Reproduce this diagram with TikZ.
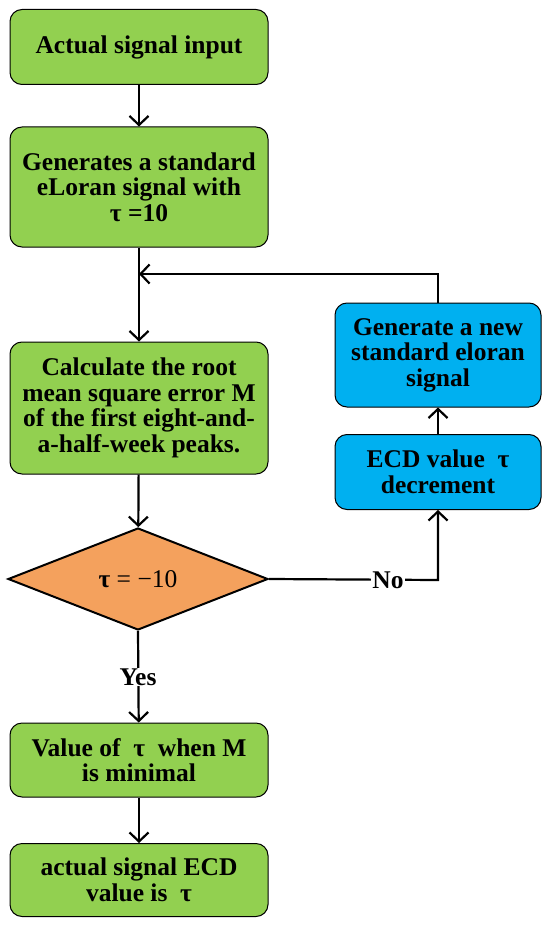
\documentclass[tikz,border=0pt]{standalone}
\usepackage{fontspec}
\setmainfont{Liberation Serif}
\usetikzlibrary{shapes.geometric,arrows.meta}
\definecolor{boxgreen}{HTML}{92D050}
\definecolor{boxblue}{HTML}{00B0F0}
\definecolor{boxorange}{HTML}{F4A15D}
\begin{document}
\begin{tikzpicture}[x=1pt,y=-1pt,
  every node/.style={font=\bfseries\fontsize{25.5}{25.5}\selectfont, align=center},
  gbox/.style={draw=black, line width=1pt, fill=boxgreen, rounded corners=12pt, minimum width=258pt, inner sep=0pt},
  bbox/.style={draw=black, line width=1pt, fill=boxblue, rounded corners=12pt, minimum width=206pt, inner sep=0pt},
  dia/.style={draw=black, line width=2pt, fill=boxorange, shape=diamond, minimum width=260pt, minimum height=102pt, inner sep=0pt},
  conn/.style={line width=2.2pt, -{Straight Barb[length=9pt,width=19pt,line width=2.2pt]}},
  lbl/.style={fill=white, inner sep=1pt}]
\useasboundingbox (0,0) rectangle (550,928);
\node[gbox, minimum height=75pt] (b1) at (139,47) {Actual signal input};
\node[gbox, minimum height=120pt] (b2) at (139,187) {Generates a standard\\eLoran signal with\\τ =10};
\node[gbox, minimum height=132pt] (b3) at (139,408) {Calculate the root\\mean square error M\\of the first eight-and-\\a-half-week peaks.};
\node[dia] (d) at (138,579) {τ {\mdseries = −10}};
\node[gbox, minimum height=74pt] (b4) at (139,760) {Value of \ τ \ when M\\is minimal};
\node[gbox, minimum height=73pt] (b5) at (139,880) {actual signal ECD\\value is \ τ};
\node[bbox, minimum height=104pt] (u1) at (438,355) {Generate a new\\standard eloran\\signal};
\node[bbox, minimum height=75pt] (u2) at (438,472) {ECD value \ τ\\decrement};
\coordinate (join) at (139,274);
\coordinate (corner) at (438,580);
\coordinate (ctop) at (438,274);
\draw[conn] (b1) -- (b2);
\draw[conn] (b2) -- (b3);
\draw[conn] (u1.north) -- (ctop) -- (join);
\draw[conn] (b3) -- (d);
\draw[conn] (d.east) -- (corner) -- (u2.south);
\node[lbl] (no) at (388,580) {No};
\draw[conn] (u2) -- (u1);
\draw[conn] (d.south) -- (b4);
\node[lbl] (yes) at (138,677) {Yes};
\draw[conn] (b4) -- (b5);
\end{tikzpicture}
\end{document}
